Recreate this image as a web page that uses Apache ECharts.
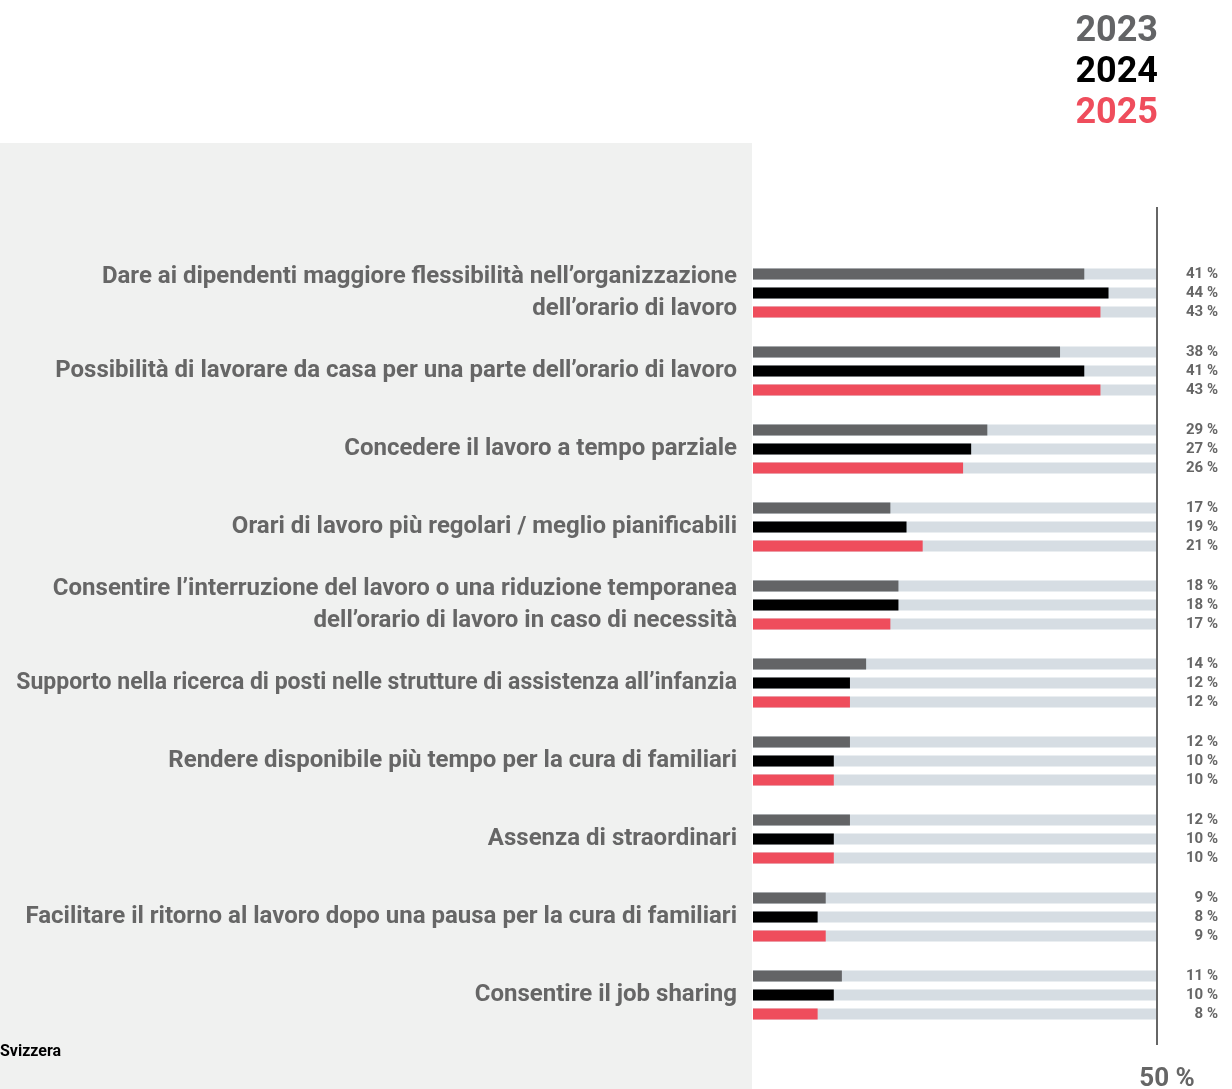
<!DOCTYPE html>
<html>
<head>
<meta charset="utf-8">
<script src="https://cdn.jsdelivr.net/npm/echarts@6/dist/echarts.min.js"></script>
<style>
  html, body { margin: 0; padding: 0; background: #fff; }
  #main { width: 1232px; height: 1089px; }
</style>
</head>
<body>
<div id="main"></div>
<script>
// dati
var categories = [
  'Dare ai dipendenti maggiore flessibilità nell’organizzazione\ndell’orario di lavoro',
  'Possibilità di lavorare da casa per una parte dell’orario di lavoro',
  'Concedere il lavoro a tempo parziale',
  'Orari di lavoro più regolari / meglio pianificabili',
  'Consentire l’interruzione del lavoro o una riduzione temporanea\ndell’orario di lavoro in caso di necessità',
  'Supporto nella ricerca di posti nelle strutture di assistenza all’infanzia',
  'Rendere disponibile più tempo per la cura di familiari',
  'Assenza di straordinari',
  'Facilitare il ritorno al lavoro dopo una pausa per la cura di familiari',
  'Consentire il job sharing'
];
var years = ['2023', '2024', '2025'];
var values2023 = [41, 38, 29, 17, 18, 14, 12, 12, 9, 11];
var values2024 = [44, 41, 27, 19, 18, 12, 10, 10, 8, 10];
var values2025 = [43, 43, 26, 21, 17, 12, 10, 10, 9, 8];
var colors = ['#636466', '#000000', '#ef4d5c'];
var axisMax = 50;

var chart = echarts.init(document.getElementById('main'));

function makeSeries(name, data, color) {
  return {
    name: name,
    type: 'bar',
    data: data,
    barWidth: 11,
    barGap: '73%',
    itemStyle: { color: color },
    showBackground: true,
    backgroundStyle: { color: '#d6dde3' },
    label: {
      show: true,
      position: 'right',
      formatter: '{c} %',
      color: '#666666',
      fontSize: 15,
      fontWeight: 'bold'
    },
    labelLayout: { x: 1218, align: 'right', verticalAlign: 'middle' },
    animation: false
  };
}

var option = {
  textStyle: { fontFamily: 'Roboto' },
  color: colors,
  legend: {
    orient: 'vertical',
    right: 64,
    top: 9,
    icon: 'none',
    itemWidth: 0,
    itemHeight: 30,
    itemGap: 5,
    selectedMode: false,
    align: 'right',
    textStyle: { fontSize: 36, fontWeight: 'bold', fontFamily: 'Roboto' },
    data: [
      { name: years[0], textStyle: { color: colors[0] } },
      { name: years[1], textStyle: { color: colors[1] } },
      { name: years[2], textStyle: { color: colors[2] } }
    ]
  },
  graphic: [
    {
      type: 'rect', z: -10, silent: true,
      shape: { x: 0, y: 143, width: 752, height: 946 },
      style: { fill: '#f0f1f0' }
    },
    {
      type: 'line', z: 10, silent: true,
      shape: { x1: 1157, y1: 207, x2: 1157, y2: 1045 },
      style: { stroke: '#666666', lineWidth: 2 }
    },
    {
      type: 'text', silent: true,
      x: 0, y: 1044,
      style: { text: 'Svizzera', fill: '#000', font: 'bold 16px Roboto' }
    }
  ],
  grid: {
    left: 753, top: 254, width: 404, height: 780,
    containLabel: false,
    outerBoundsMode: 'none'
  },
  xAxis: {
    type: 'value',
    min: 0,
    max: axisMax,
    interval: 50,
    axisLine: { show: false },
    axisTick: { show: false },
    splitLine: { show: false },
    axisLabel: {
      showMinLabel: false,
      formatter: '{value} %',
      margin: 32,
      padding: [0, 0, 0, 20],
      color: '#666666',
      fontSize: 26,
      fontWeight: 'bold'
    }
  },
  yAxis: {
    type: 'category',
    inverse: true,
    data: categories,
    axisLine: { show: false },
    axisTick: { show: false },
    axisLabel: {
      margin: 16,
      align: 'right',
      color: '#666666',
      fontSize: 24,
      fontWeight: 'bold',
      lineHeight: 32,
      // la riga più lunga è leggermente più stretta
      formatter: function (v) {
        return v.indexOf('\n') < 0 && v.length > 72 ? '{narrow|' + v + '}' : v;
      },
      rich: {
        narrow: { fontSize: 23, fontWeight: 'bold', color: '#666666', lineHeight: 32 }
      }
    }
  },
  series: [
    makeSeries(years[0], values2023, colors[0]),
    makeSeries(years[1], values2024, colors[1]),
    makeSeries(years[2], values2025, colors[2])
  ]
};

chart.setOption(option);
window.onresize = function () { chart.resize(); };
</script>
</body>
</html>
